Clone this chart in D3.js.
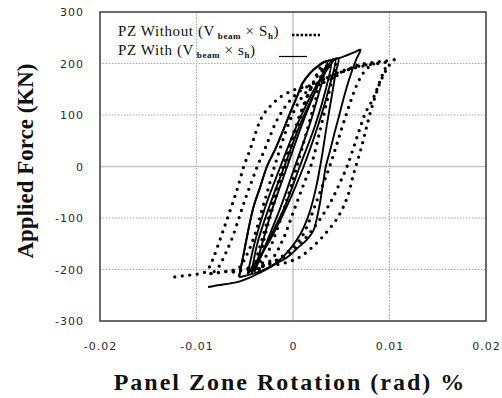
<!DOCTYPE html>
<html>
<head>
<meta charset="utf-8">
<script src="https://cdn.jsdelivr.net/npm/d3@7/dist/d3.min.js"></script>
<style>
	body { margin: 0; background: #fff; }
	#chart { width: 502px; height: 398px; }
</style>
</head>
<body>
<div id="chart"></div>
<script>
'use strict';

// ticks
const xTicks = [-0.02, -0.01, 0, 0.01, 0.02];
const yTicks = [300, 200, 100, 0, -100, -200, -300];

// PZ Without (dotted) : one array per cycle, [rotation, force]
const withoutLoopA = [
	[-0.0035, -200], [-0.0022, -150], [-0.0009, -80], [0.0004, 0], [0.0016, 80], [0.0026, 150], [0.0030, 196],
	[0.0018, 150], [0.0005, 80], [-0.0008, 0], [-0.0021, -80], [-0.0031, -150], [-0.0035, -200]
];
const withoutLoopB = [
	[-0.0045, -202], [-0.0035, -196], [-0.0022, -180], [-0.0010, -140], [0.0000, -90], [0.0010, -40],
	[0.0020, 10], [0.0028, 70], [0.0035, 125], [0.0040, 165], [0.0045, 198],
	[0.0037, 194], [0.0027, 180], [0.0018, 150], [0.0008, 105], [-0.0002, 50], [-0.0012, -10],
	[-0.0020, -60], [-0.0028, -115], [-0.0035, -160], [-0.0040, -190], [-0.0045, -202]
];
const withoutLoopC = [
	[-0.0062, -205], [-0.0048, -201], [-0.0035, -196], [-0.0020, -185], [-0.0005, -165], [0.0008, -140],
	[0.0017, -105], [0.0025, -65], [0.0032, -30], [0.0038, 0], [0.0044, 35], [0.0049, 65], [0.0055, 100],
	[0.0060, 128], [0.0066, 158], [0.0073, 182], [0.0079, 194], [0.0084, 199],
	[0.0074, 197], [0.0062, 192], [0.0050, 185], [0.0038, 175], [0.0026, 163], [0.0015, 147],
	[0.0006, 125], [-0.0002, 95], [-0.0009, 60], [-0.0015, 25], [-0.0020, -5], [-0.0026, -45],
	[-0.0033, -90], [-0.0040, -135], [-0.0048, -172], [-0.0055, -195], [-0.0062, -205]
];
const withoutLoopD = [
	[-0.0085, -208], [-0.0070, -204], [-0.0052, -200], [-0.0035, -194], [-0.0018, -183], [-0.0003, -168],
	[0.0010, -145], [0.0022, -118], [0.0033, -88], [0.0041, -62], [0.0049, -30], [0.0056, 0], [0.0063, 38],
	[0.0069, 72], [0.0075, 104], [0.0082, 128], [0.0087, 150], [0.0093, 180], [0.0097, 201],
	[0.0088, 200], [0.0075, 196], [0.0061, 190], [0.0048, 182], [0.0035, 172], [0.0021, 161],
	[0.0007, 146], [-0.0004, 126], [-0.0012, 105], [-0.0018, 85], [-0.0024, 58], [-0.0030, 30],
	[-0.0037, 0], [-0.0044, -35], [-0.0050, -66], [-0.0056, -100], [-0.0063, -139], [-0.0069, -165],
	[-0.0074, -185], [-0.0079, -200], [-0.0085, -208]
];
const withoutLoopE = [
	[-0.0085, -208], [-0.0070, -204], [-0.0058, -200], [-0.0040, -196], [-0.0025, -193], [-0.0010, -188],
	[0.0000, -182], [0.0007, -176], [0.0015, -165], [0.0022, -153], [0.0029, -140], [0.0035, -127],
	[0.0045, -103], [0.0052, -79], [0.0058, -50], [0.0062, -20], [0.0067, 12], [0.0072, 45], [0.0076, 75],
	[0.0080, 104], [0.0085, 135], [0.0090, 162], [0.0095, 182], [0.0099, 195], [0.0105, 207],
	[0.0097, 205], [0.0087, 203], [0.0075, 200], [0.0065, 196], [0.0058, 189], [0.0050, 182],
	[0.0042, 172], [0.0035, 165], [0.0025, 160], [0.0013, 155], [0.0000, 148], [-0.0013, 135],
	[-0.0020, 124], [-0.0026, 112], [-0.0031, 100], [-0.0035, 85], [-0.0040, 58], [-0.0045, 30],
	[-0.0051, 0], [-0.0058, -45], [-0.0066, -90], [-0.0073, -128], [-0.0079, -160], [-0.0083, -180],
	[-0.0086, -193], [-0.0091, -205], [-0.0099, -209], [-0.0108, -211], [-0.0117, -213], [-0.0125, -215]
];

// PZ With (solid)
const withLoop1 = [
	[-0.0040, -205], [-0.0028, -150], [-0.0013, -80], [0.0002, 0], [0.0017, 80], [0.0028, 150], [0.0036, 203],
	[0.0024, 150], [0.0009, 80], [-0.0006, 0], [-0.0021, -80], [-0.0032, -150], [-0.0040, -205]
];
const withLoop2 = [
	[-0.0043, -207], [-0.0036, -185], [-0.0027, -150], [-0.0009, -80], [0.0007, 0], [0.0023, 80],
	[0.0034, 150], [0.0040, 205],
	[0.0033, 185], [0.0024, 150], [0.0007, 80], [-0.0009, 0], [-0.0025, -80], [-0.0037, -150], [-0.0043, -207]
];
const withLoop3 = [
	[-0.0047, -209], [-0.0040, -190], [-0.0026, -150], [-0.0007, -80], [0.0011, 0], [0.0026, 80],
	[0.0037, 150], [0.0044, 208],
	[0.0036, 190], [0.0022, 150], [0.0004, 80], [-0.0013, 0], [-0.0029, -80], [-0.0040, -150], [-0.0047, -209]
];
const withLoop4 = [
	[-0.0056, -215], [-0.0045, -210], [-0.0032, -202], [-0.0018, -188], [-0.0005, -165], [0.0008, -130],
	[0.0017, -90], [0.0024, -40], [0.0030, 20], [0.0035, 80], [0.0040, 135], [0.0044, 180], [0.0047, 210],
	[0.0040, 207], [0.0032, 202], [0.0025, 193], [0.0018, 182], [0.0010, 162], [0.0004, 135],
	[-0.0003, 104], [-0.0010, 71], [-0.0018, 35], [-0.0027, 0], [-0.0034, -40], [-0.0041, -79],
	[-0.0047, -130], [-0.0052, -178], [-0.0056, -215]
];
const withLoop5 = [
	[-0.0088, -234], [-0.0076, -230], [-0.0065, -227], [-0.0055, -223], [-0.0045, -216], [-0.0034, -206],
	[-0.0025, -197], [-0.0017, -188], [-0.0009, -180], [-0.0003, -172], [0.0005, -158], [0.0014, -143],
	[0.0021, -125], [0.0027, -80], [0.0031, -35], [0.0034, 0], [0.0039, 35], [0.0043, 65], [0.0048, 100],
	[0.0052, 129], [0.0057, 162], [0.0061, 185], [0.0066, 210], [0.0070, 227],
	[0.0064, 222], [0.0056, 216], [0.0047, 210], [0.0040, 207], [0.0032, 203], [0.0025, 194],
	[0.0018, 182], [0.0010, 162], [0.0004, 135], [-0.0003, 104], [-0.0010, 71], [-0.0018, 35],
	[-0.0027, 0], [-0.0034, -40], [-0.0041, -79], [-0.0047, -130], [-0.0052, -178], [-0.0056, -214]
];

const withoutLoops = [withoutLoopA, withoutLoopB, withoutLoopC, withoutLoopD, withoutLoopE];
const withLoops    = [withLoop1, withLoop2, withLoop3, withLoop4, withLoop5];


const drawChart = () =>
{
	const left   = 100;
	const top    = 12;
	const width  = 386;
	const height = 309;
	const x      = d3.scaleLinear().domain([-0.02, 0.02]).range([0, width]);
	const y      = d3.scaleLinear().domain([-300, 300]).range([height, 0]);

	const svg = d3.select("#chart")
		.append("svg")
		.attr("width", 502)
		.attr("height", 398)
		.style("font-family", "'DejaVu Sans', Verdana, sans-serif");

	const g = svg.append("g")
		.attr("transform", "translate(" + left + "," + top + ")");

	// grid
	g.selectAll(".vgrid")
		.data(xTicks.slice(1, -1))
		.enter()
			.append("line")
			.attr("x1", d => x(d))
			.attr("x2", d => x(d))
			.attr("y1", 0)
			.attr("y2", height)
			.attr("stroke", d => d === 0 ? "#c4c4c4" : "#a8a8a8")
			.attr("stroke-width", d => d === 0 ? 1.5 : 1)
			.attr("stroke-dasharray", d => d === 0 ? null : "1.5 1.5");

	g.selectAll(".hgrid")
		.data(yTicks.slice(1, -1))
		.enter()
			.append("line")
			.attr("x1", 0)
			.attr("x2", width)
			.attr("y1", d => y(d))
			.attr("y2", d => y(d))
			.attr("stroke", d => d === 0 ? "#c4c4c4" : "#a8a8a8")
			.attr("stroke-width", d => d === 0 ? 1.5 : 1)
			.attr("stroke-dasharray", d => d === 0 ? null : "1.5 1.5");

	// tick labels via d3 axes, lines hidden
	const xAxis = g.append("g")
		.attr("transform", "translate(0," + height + ")")
		.call(d3.axisBottom(x).tickValues(xTicks).tickSize(0).tickPadding(21).tickFormat(d => d));

	const yAxis = g.append("g")
		.call(d3.axisLeft(y).tickValues(yTicks).tickSize(0).tickPadding(16).tickFormat(d => d));

	[xAxis, yAxis].forEach(axis =>
	{
		axis.select(".domain").remove();
		axis.selectAll("text")
			.style("font-family", "'DejaVu Sans', Verdana, sans-serif")
			.style("font-size", "11px")
			.style("letter-spacing", "1px")
			.attr("fill", "#2a2a2a");
	});

	const line = d3.line()
		.x(d => x(d[0]))
		.y(d => y(d[1]))
		.curve(d3.curveCatmullRom.alpha(0.5));

	g.selectAll(".without")
		.data(withoutLoops)
		.enter()
			.append("path")
			.attr("class", "without")
			.attr("d", line)
			.attr("fill", "none")
			.attr("stroke", "#000")
			.attr("stroke-width", 3.3)
			.attr("stroke-linecap", "round")
			.attr("stroke-dasharray", "0 7.5");

	g.selectAll(".with")
		.data(withLoops)
		.enter()
			.append("path")
			.attr("class", "with")
			.attr("d", line)
			.attr("fill", "none")
			.attr("stroke", "#000")
			.attr("stroke-width", 1.9)
			.attr("stroke-linejoin", "round");

	// frame
	g.append("rect")
		.attr("width", width)
		.attr("height", height)
		.attr("fill", "none")
		.attr("stroke", "#3a3a3a")
		.attr("stroke-width", 1.5);

	// legend
	const legend = svg.append("g")
		.style("font-family", "'Liberation Serif', 'Times New Roman', serif")
		.attr("fill", "#111");

	const legendRow = (yPos, name, s) =>
	{
		const t = legend.append("text")
			.attr("x", 118)
			.attr("y", yPos)
			.style("font-size", "15px")
			.style("letter-spacing", "0.6px");
		t.append("tspan").text(name + " (V");
		t.append("tspan").attr("dy", 2.5).style("font-size", "9px").style("font-weight", "bold").text(" beam");
		t.append("tspan").attr("dy", -2.5).text(" \u00d7 " + s);
		t.append("tspan").attr("dy", 2.5).style("font-size", "9px").style("font-weight", "bold").text("h");
		t.append("tspan").attr("dy", -2.5).text(")");
	};
	legendRow(36, "PZ Without", "S");
	legendRow(55, "PZ With", "s");

	legend.append("line")
		.attr("x1", 292).attr("x2", 320)
		.attr("y1", 35).attr("y2", 35)
		.attr("stroke", "#000")
		.attr("stroke-width", 2.5)
		.attr("stroke-dasharray", "2.5 1.8");

	legend.append("line")
		.attr("x1", 279).attr("x2", 307)
		.attr("y1", 56.5).attr("y2", 56.5)
		.attr("stroke", "#000")
		.attr("stroke-width", 1.2);

	// axis titles
	svg.append("text")
		.attr("x", 290)
		.attr("y", 390)
		.attr("text-anchor", "middle")
		.style("font-family", "'Liberation Serif', 'Times New Roman', serif")
		.style("font-weight", "bold")
		.style("font-size", "24px")
		.style("letter-spacing", "2px")
		.attr("fill", "#111")
		.text("Panel Zone Rotation (rad) %");

	svg.append("text")
		.attr("transform", "translate(33,161) rotate(-90)")
		.attr("text-anchor", "middle")
		.style("font-family", "'Liberation Serif', 'Times New Roman', serif")
		.style("font-weight", "bold")
		.style("font-size", "23px")
		.attr("fill", "#111")
		.text("Applied Force (KN)");
};


document.addEventListener("DOMContentLoaded", () =>
{
	drawChart();
}, false);
</script>
</body>
</html>
